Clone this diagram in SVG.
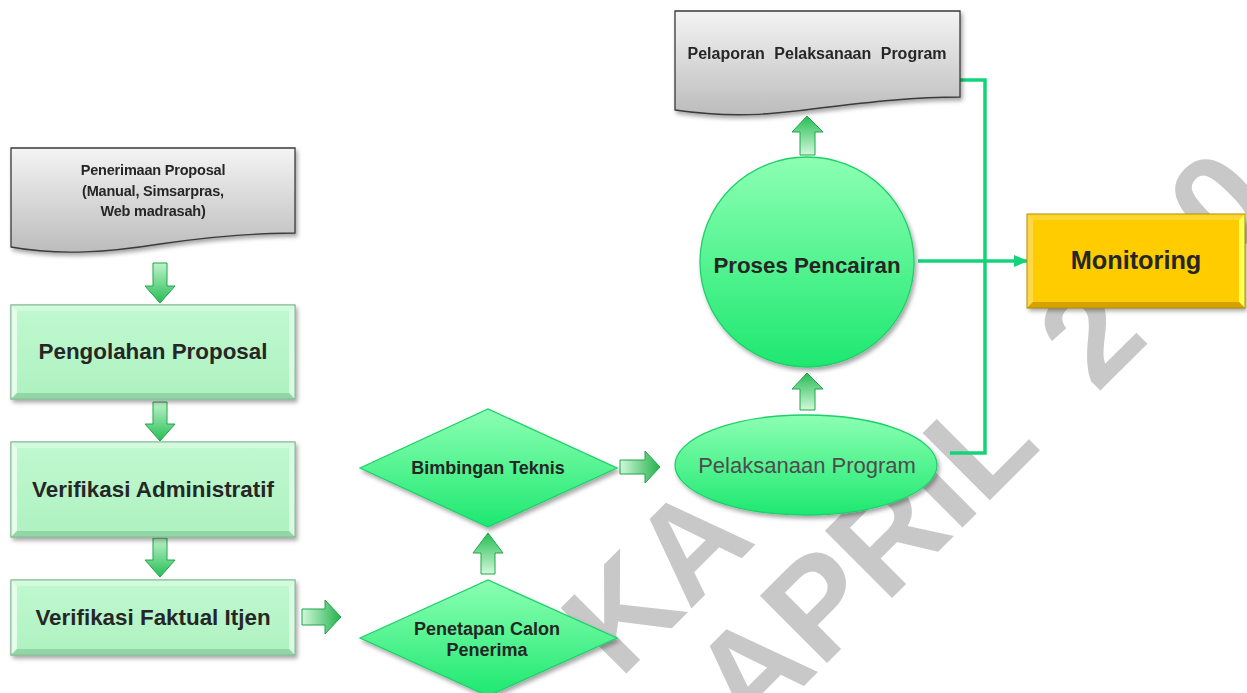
<svg xmlns="http://www.w3.org/2000/svg" width="1247" height="693" viewBox="0 0 1247 693">
<defs>
<style>
.t{font-family:"Liberation Sans",Arial,sans-serif;font-weight:bold;fill:#262626;text-anchor:middle}
.wm{font-family:"Liberation Sans",Arial,sans-serif;font-weight:bold;fill:#c8c8c8}
.doc{fill:url(#gDoc);stroke:#3a3a3a;stroke-width:1.3}
.gshape{fill:url(#gGreen);stroke:#1fd06a;stroke-width:1.3}
.face{fill:url(#gFace);stroke:#86b894;stroke-width:1}
.arr{stroke:#1fa64a;stroke-width:1}
.line{fill:none;stroke:#14d47a;stroke-width:3.5}
</style>
<filter id="sh" x="-10%" y="-10%" width="125%" height="130%">
<feDropShadow dx="2" dy="3" stdDeviation="2" flood-color="#000" flood-opacity="0.35"/>
</filter>
<linearGradient id="gDoc" x1="0" y1="0" x2="0" y2="1"><stop offset="0" stop-color="#f4f4f4"/><stop offset="1" stop-color="#bcbcbc"/></linearGradient>
<linearGradient id="gGreen" x1="0" y1="0" x2="0" y2="1"><stop offset="0" stop-color="#8cffb3"/><stop offset="1" stop-color="#1ee870"/></linearGradient>
<linearGradient id="gFace" x1="0" y1="0" x2="0" y2="1"><stop offset="0" stop-color="#c0f9d0"/><stop offset="1" stop-color="#aef1c0"/></linearGradient>
<linearGradient id="gDown" x1="0" y1="0" x2="0" y2="1"><stop offset="0" stop-color="#bff4cb"/><stop offset="1" stop-color="#26bd55"/></linearGradient>
<linearGradient id="gUp" x1="0" y1="1" x2="0" y2="0"><stop offset="0" stop-color="#d2f8da"/><stop offset="1" stop-color="#26bd55"/></linearGradient>
<linearGradient id="gRight" x1="0" y1="0" x2="1" y2="0"><stop offset="0" stop-color="#d2f8da"/><stop offset="1" stop-color="#22b24c"/></linearGradient>
<marker id="ah" markerWidth="14" markerHeight="12" refX="13" refY="6" orient="auto" markerUnits="userSpaceOnUse" viewBox="0 0 14 12">
<path d="M0,0 L14,6 L0,12 z" fill="#14d47a"/>
</marker>
</defs>
<rect width="1247" height="693" fill="#ffffff"/>

<g id="watermark">
<text class="wm" font-size="135" transform="translate(620,680) rotate(-45)">KA</text>
<text class="wm" font-size="138" transform="translate(750,740) rotate(-45)">APRIL</text>
<text class="wm" font-size="138" transform="translate(1097,394) rotate(-45)">2</text>
<text class="wm" font-size="138" transform="translate(1226,264) rotate(-45)">0</text>
</g>

<g id="connectors">
<polyline class="line" points="960,80 985,80 985,453 950,453"/>
<line class="line" x1="918" y1="261" x2="1027" y2="261" marker-end="url(#ah)"/>
<polygon class="arr" fill="url(#gDown)" points="153,263 167,263 167,286 175,286 160,303 145,286 153,286"/>
<polygon class="arr" fill="url(#gDown)" points="153,402 167,402 167,424 175,424 160,441 145,424 153,424"/>
<polygon class="arr" fill="url(#gDown)" points="153,538 167,538 167,560 175,560 160,577 145,560 153,560"/>
<polygon class="arr" fill="url(#gRight)" points="302,609 325,609 325,600 341,617 325,634 325,625 302,625"/>
<polygon class="arr" fill="url(#gUp)" points="481,574 495,574 495,553 503,553 488,533 473,553 481,553"/>
<polygon class="arr" fill="url(#gRight)" points="620,460 645,460 645,451 660,467 645,483 645,474 620,474"/>
<polygon class="arr" fill="url(#gUp)" points="800,410 815,410 815,389 823,389 807,373 792,389 800,389"/>
<polygon class="arr" fill="url(#gUp)" points="800,155 815,155 815,132 823,132 807,116 792,132 800,132"/>
</g>

<g id="penerimaan" filter="url(#sh)">
<path class="doc" d="M11,148 H295 V233 C250,233 200,238 160,244 C110,252 60,256 11,247 Z"/>
<text class="t" font-size="14.5" x="153" y="175" letter-spacing="-0.2">Penerimaan Proposal</text>
<text class="t" font-size="14.5" x="153" y="196" letter-spacing="-0.2">(Manual, Simsarpras,</text>
<text class="t" font-size="14.5" x="153" y="216" letter-spacing="-0.2">Web madrasah)</text>
</g>

<g id="pengolahan">
<g filter="url(#sh)"><rect class="face" x="11" y="305" width="284" height="94"/></g>
<polygon points="11,305 295,305 289,311 17,311" fill="#d2fadd"/>
<polygon points="11,305 17,311 17,393 11,399" fill="#e6fdeb"/>
<polygon points="295,305 289,311 289,393 295,399" fill="#d8fbe1"/>
<polygon points="11,399 17,393 289,393 295,399" fill="#93d6a5"/>
<rect x="11" y="305" width="284" height="94" fill="none" stroke="#86b894"/>
<text class="t" font-size="22.4" x="153" y="359">Pengolahan Proposal</text>
</g>

<g id="verifikasi-admin">
<g filter="url(#sh)"><rect class="face" x="11" y="442" width="284" height="95"/></g>
<polygon points="11,442 295,442 289,448 17,448" fill="#d2fadd"/>
<polygon points="11,442 17,448 17,531 11,537" fill="#e6fdeb"/>
<polygon points="295,442 289,448 289,531 295,537" fill="#d8fbe1"/>
<polygon points="11,537 17,531 289,531 295,537" fill="#93d6a5"/>
<rect x="11" y="442" width="284" height="95" fill="none" stroke="#86b894"/>
<text class="t" font-size="22.4" x="153" y="497">Verifikasi Administratif</text>
</g>

<g id="verifikasi-faktual">
<g filter="url(#sh)"><rect class="face" x="11" y="580" width="284" height="75"/></g>
<polygon points="11,580 295,580 289,586 17,586" fill="#d2fadd"/>
<polygon points="11,580 17,586 17,649 11,655" fill="#e6fdeb"/>
<polygon points="295,580 289,586 289,649 295,655" fill="#d8fbe1"/>
<polygon points="11,655 17,649 289,649 295,655" fill="#93d6a5"/>
<rect x="11" y="580" width="284" height="75" fill="none" stroke="#86b894"/>
<text class="t" font-size="22.4" x="153" y="625">Verifikasi Faktual Itjen</text>
</g>

<g id="penetapan">
<polygon class="gshape" filter="url(#sh)" points="360,638 488,580 617,638 488,696"/>
<text class="t" font-size="18" x="487" y="635">Penetapan Calon</text>
<text class="t" font-size="18" x="487" y="656">Penerima</text>
</g>

<g id="bimbingan">
<polygon class="gshape" filter="url(#sh)" points="360,468 488,409 617,468 488,527"/>
<text class="t" font-size="18" x="488" y="474">Bimbingan Teknis</text>
</g>

<g id="pelaksanaan">
<ellipse class="gshape" filter="url(#sh)" cx="806" cy="465" rx="131" ry="50"/>
<text class="t" font-size="22" x="807" y="473" style="font-weight:normal;fill:#4d4d4d">Pelaksanaan Program</text>
</g>

<g id="proses">
<ellipse class="gshape" filter="url(#sh)" cx="807" cy="262" rx="107" ry="105"/>
<text class="t" font-size="22.3" x="807" y="273">Proses Pencairan</text>
</g>

<g id="pelaporan" filter="url(#sh)">
<path class="doc" d="M675,11 H960 V97 C915,97 870,102 820,108 C770,115 730,118 675,110 Z"/>
<text class="t" font-size="16" x="817" y="59" style="word-spacing:5px">Pelaporan Pelaksanaan Program</text>
</g>

<g id="monitoring">
<g filter="url(#sh)"><rect x="1027" y="214" width="218" height="94" fill="#ffcc00"/></g>
<polygon points="1027,214 1245,214 1239,220 1033,220" fill="#ffd52e"/>
<polygon points="1027,214 1033,220 1033,302 1027,308" fill="#ffd84a"/>
<polygon points="1245,214 1239,220 1239,302 1245,308" fill="#ffff55"/>
<polygon points="1027,308 1033,302 1239,302 1245,308" fill="#d6a200"/>
<rect x="1027" y="214" width="218" height="94" fill="none" stroke="#b38f00"/>
<text class="t" font-size="25.3" x="1136" y="269">Monitoring</text>
</g>
</svg>
